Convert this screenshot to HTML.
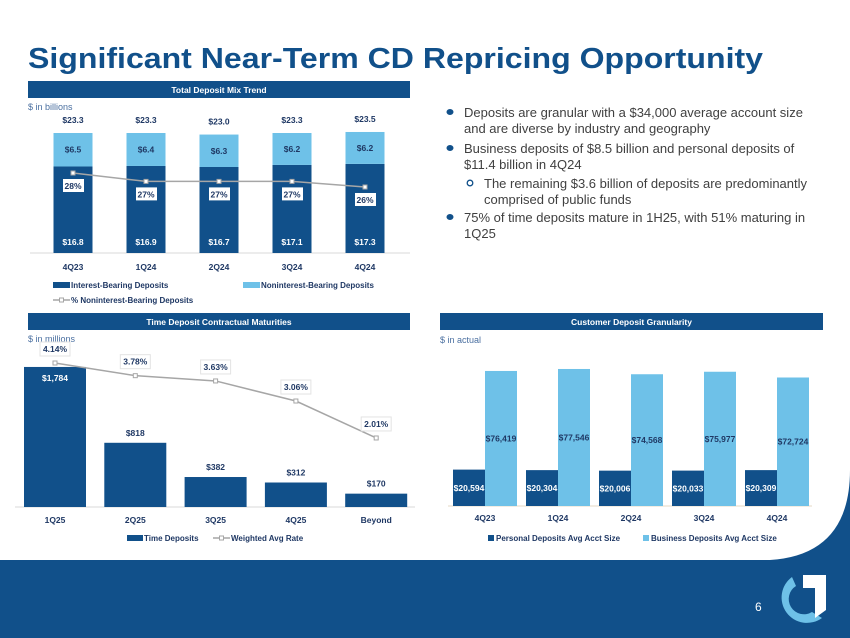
<!DOCTYPE html>
<html><head><meta charset="utf-8">
<style>
html,body{margin:0;padding:0;background:#fff;}
svg{display:block;font-family:"Liberation Sans",sans-serif;}
</style></head>
<body>
<svg id="s" width="850" height="638" viewBox="0 0 850 638" xmlns="http://www.w3.org/2000/svg">
<rect x="0" y="0" width="850" height="638" fill="#fff"/>
<text x="28" y="68" font-size="29" font-weight="bold" fill="#11508a" textLength="735" lengthAdjust="spacingAndGlyphs">Significant Near-Term CD Repricing Opportunity</text>

<g font-size="13" fill="#404040">
<ellipse cx="450" cy="112" rx="3.5" ry="3" fill="#11508a"/>
<text x="464" y="117">Deposits are granular with a $34,000 average account size</text>
<text x="464" y="133">and are diverse by industry and geography</text>
<ellipse cx="450" cy="148" rx="3.5" ry="3" fill="#11508a"/>
<text x="464" y="153">Business deposits of $8.5 billion and personal deposits of</text>
<text x="464" y="169">$11.4 billion in 4Q24</text>
<circle cx="470" cy="183" r="2.8" fill="none" stroke="#11508a" stroke-width="1.3"/>
<text x="484" y="188">The remaining $3.6 billion of deposits are predominantly</text>
<text x="484" y="204">comprised of public funds</text>
<ellipse cx="450" cy="217" rx="3.5" ry="3" fill="#11508a"/>
<text x="464" y="222">75% of time deposits mature in 1H25, with 51% maturing in</text>
<text x="464" y="238">1Q25</text>
</g>

<path d="M0 560 L770 560 Q850 555 850 470 L850 638 L0 638 Z" fill="#11508a"/>
<text x="755" y="611" font-size="12" fill="#fff">6</text>
<g>
<path d="M792 577 A24 24 0 1 0 822 618 L812 612 A14 14 0 1 1 796 586 Z" fill="#6ec1e8"/>
<path d="M803 575 L826 575 L826 610 L815 618 L815 588 L803 588 Z" fill="#fff"/>
</g>

<g id="c1"></g><g id="c2"></g><g id="c3"></g>
</svg>
<script>
// ---- Chart 1 data ----
const c1Cats=["4Q23","1Q24","2Q24","3Q24","4Q24"];
const c1Interest=[16.8,16.9,16.7,17.1,17.3];
const c1NonInterest=[6.5,6.4,6.3,6.2,6.2];
const c1Totals=[23.3,23.3,23.0,23.3,23.5];
const c1Pct=[27.9,27.0,27.0,27.0,26.4];
const c1PctLabels=["28%","27%","27%","27%","26%"];
// ---- Chart 2 data ----
const c2Cats=["1Q25","2Q25","3Q25","4Q25","Beyond"];
const c2Values=[1784,818,382,312,170];
const c2ValueLabels=["$1,784","$818","$382","$312","$170"];
const c2Rates=[4.14,3.78,3.63,3.06,2.01];
// ---- Chart 3 data ----
const c3Cats=["4Q23","1Q24","2Q24","3Q24","4Q24"];
const c3Personal=[20594,20304,20006,20033,20309];
const c3Business=[76419,77546,74568,75977,72724];

const NS="http://www.w3.org/2000/svg";
const DARK="#11508a",LIGHT="#6ec1e8",TXT="#1f3864";
function mk(p,tag,at,txt){const e=document.createElementNS(NS,tag);for(const k in at)e.setAttribute(k,at[k]);if(txt!==undefined)e.textContent=txt;p.appendChild(e);return e;}
function fmt(v){return "$"+v.toLocaleString("en-US");}
function header(g,x,w,y,label){
  const r=mk(g,"rect",{x:x,y:y,width:w,height:17,fill:DARK});
  
  
  const t=mk(g,"text",{x:x+w/2,y:y+12,"font-size":"8.5","font-weight":"bold",fill:"#fff","text-anchor":"middle"},label);
  
  
}
function unit(g,x,y,label){
  const t=mk(g,"text",{x:x,y:y,"font-size":"9",fill:"#4a6fa0"},label);
  
  
}

// ---------- Chart 1 ----------
(function(){
const g=document.getElementById("c1");
header(g,28,382,81,"Total Deposit Mix Trend");
unit(g,28,110,"$ in billions");
const base=253, k=5.15, bw=39;
const xc=i=>73+i*73;
const y=v=>base-v*k;
const yp=v=>173+(27.9-v)*9.33;
mk(g,"line",{x1:30,y1:base,x2:410,y2:base,stroke:"#d9d9d9","stroke-width":1});
c1Cats.forEach((c,i)=>{
  const yi=y(c1Interest[i]), yt=y(c1Interest[i]+c1NonInterest[i]);
  const r1=mk(g,"rect",{x:xc(i)-bw/2,y:yi,width:bw,height:base-yi,fill:DARK});
  
  
  const r2=mk(g,"rect",{x:xc(i)-bw/2,y:yt,width:bw,height:yi-yt,fill:LIGHT});
  
  
  mk(g,"text",{x:xc(i),y:base-8,"font-size":"8.5","font-weight":"bold",fill:"#fff","text-anchor":"middle"},"$"+c1Interest[i].toFixed(1));
  mk(g,"text",{x:xc(i),y:(yi+yt)/2+3,"font-size":"8.5","font-weight":"bold",fill:TXT,"text-anchor":"middle"},"$"+c1NonInterest[i].toFixed(1));
  mk(g,"text",{x:xc(i),y:yt-10,"font-size":"8.5","font-weight":"bold",fill:TXT,"text-anchor":"middle"},"$"+c1Totals[i].toFixed(1));
  const xl=mk(g,"text",{x:xc(i),y:270,"font-size":"8.5","font-weight":"bold",fill:TXT,"text-anchor":"middle"},c);
  
  
});
const pts=c1Pct.map((v,i)=>xc(i)+","+yp(v)).join(" ");
const pl=mk(g,"polyline",{points:pts,fill:"none",stroke:"#a6a6a6","stroke-width":1.5});


c1Pct.forEach((v,i)=>{
  mk(g,"rect",{x:xc(i)-2,y:yp(v)-2,width:4,height:4,fill:"#fff",stroke:"#a6a6a6"});
  mk(g,"rect",{x:xc(i)-10,y:yp(v)+6,width:21,height:13,fill:"#fff"});
  mk(g,"text",{x:xc(i),y:yp(v)+16,"font-size":"8.5","font-weight":"bold",fill:TXT,"text-anchor":"middle"},c1PctLabels[i]);
});
const lg=mk(g,"g",{});


mk(lg,"rect",{x:53,y:282,width:17,height:6,fill:DARK});
mk(lg,"text",{x:71,y:288,"font-size":"8","font-weight":"bold",fill:TXT},"Interest-Bearing Deposits");
mk(lg,"rect",{x:243,y:282,width:17,height:6,fill:LIGHT});
mk(lg,"text",{x:261,y:288,"font-size":"8","font-weight":"bold",fill:TXT},"Noninterest-Bearing Deposits");
mk(lg,"line",{x1:53,y1:300,x2:70,y2:300,stroke:"#a6a6a6","stroke-width":1.5});
mk(lg,"rect",{x:59.5,y:298,width:4,height:4,fill:"#fff",stroke:"#a6a6a6"});
mk(lg,"text",{x:71,y:303,"font-size":"8","font-weight":"bold",fill:TXT},"% Noninterest-Bearing Deposits");
})();

// ---------- Chart 2 ----------
(function(){
const g=document.getElementById("c2");
header(g,28,382,313,"Time Deposit Contractual Maturities");
unit(g,28,342,"$ in millions");
const base=507,k=0.0785,bw=62;
const xc=i=>55+i*80.3;
const y=v=>base-v*k;
const yr=v=>363+(4.14-v)*35.2;
mk(g,"line",{x1:15,y1:base,x2:415,y2:base,stroke:"#d9d9d9","stroke-width":1});
c2Cats.forEach((c,i)=>{
  const yt=y(c2Values[i]);
  const r=mk(g,"rect",{x:xc(i)-bw/2,y:yt,width:bw,height:base-yt,fill:DARK});
  
  
  if(i==0) mk(g,"text",{x:xc(i),y:yt+14,"font-size":"8.5","font-weight":"bold",fill:"#fff","text-anchor":"middle"},c2ValueLabels[i]);
  else mk(g,"text",{x:xc(i),y:yt-7,"font-size":"8.5","font-weight":"bold",fill:TXT,"text-anchor":"middle"},c2ValueLabels[i]);
  const xl=mk(g,"text",{x:xc(i),y:523,"font-size":"8.5","font-weight":"bold",fill:TXT,"text-anchor":"middle"},c);
  
  
});
const pl=mk(g,"polyline",{points:c2Rates.map((v,i)=>xc(i)+","+yr(v)).join(" "),fill:"none",stroke:"#a6a6a6","stroke-width":1.5});


c2Rates.forEach((v,i)=>{
  mk(g,"rect",{x:xc(i)-2,y:yr(v)-2,width:4,height:4,fill:"#fff",stroke:"#a6a6a6"});
  mk(g,"rect",{x:xc(i)-15,y:yr(v)-21,width:30,height:14,fill:"#fff",stroke:"#e3e3e3"});
  mk(g,"text",{x:xc(i),y:yr(v)-11,"font-size":"8.5","font-weight":"bold",fill:TXT,"text-anchor":"middle"},v.toFixed(2)+"%");
});
const lg=mk(g,"g",{});


mk(lg,"rect",{x:127,y:535,width:16,height:6,fill:DARK});
mk(lg,"text",{x:144,y:541,"font-size":"8","font-weight":"bold",fill:TXT},"Time Deposits");
mk(lg,"line",{x1:213,y1:538,x2:230,y2:538,stroke:"#a6a6a6","stroke-width":1.5});
mk(lg,"rect",{x:219.5,y:536,width:4,height:4,fill:"#fff",stroke:"#a6a6a6"});
mk(lg,"text",{x:231,y:541,"font-size":"8","font-weight":"bold",fill:TXT},"Weighted Avg Rate");
})();

// ---------- Chart 3 ----------
(function(){
const g=document.getElementById("c3");
header(g,440,383,313,"Customer Deposit Granularity");
unit(g,440,343,"$ in actual");
const base=506,k=0.001767,bw=32;
const xc=i=>485+i*73;
const y=v=>base-v*k;
mk(g,"line",{x1:448,y1:base,x2:812,y2:base,stroke:"#e6d9c6","stroke-width":1});
c3Cats.forEach((c,i)=>{
  const yp=y(c3Personal[i]), yb=y(c3Business[i]);
  const r1=mk(g,"rect",{x:xc(i)-bw,y:yp,width:bw,height:base-yp,fill:DARK});
  
  
  const r2=mk(g,"rect",{x:xc(i),y:yb,width:bw,height:base-yb,fill:LIGHT});
  
  
  mk(g,"text",{x:xc(i)+bw/2,y:(yb+base)/2+3,"font-size":"8.5","font-weight":"bold",fill:TXT,"text-anchor":"middle"},fmt(c3Business[i]));
  mk(g,"text",{x:xc(i)-bw/2,y:(yp+base)/2+3,"font-size":"8.5","font-weight":"bold",fill:"#fff","text-anchor":"middle"},fmt(c3Personal[i]));
  const xl=mk(g,"text",{x:xc(i),y:521,"font-size":"8.5","font-weight":"bold",fill:TXT,"text-anchor":"middle"},c);
  
  
});
const lg=mk(g,"g",{});


mk(lg,"rect",{x:488,y:535,width:6,height:6,fill:DARK});
mk(lg,"text",{x:496,y:541,"font-size":"8","font-weight":"bold",fill:TXT},"Personal Deposits Avg Acct Size");
mk(lg,"rect",{x:643,y:535,width:6,height:6,fill:LIGHT});
mk(lg,"text",{x:651,y:541,"font-size":"8","font-weight":"bold",fill:TXT},"Business Deposits Avg Acct Size");
})();
</script>
</body></html>
